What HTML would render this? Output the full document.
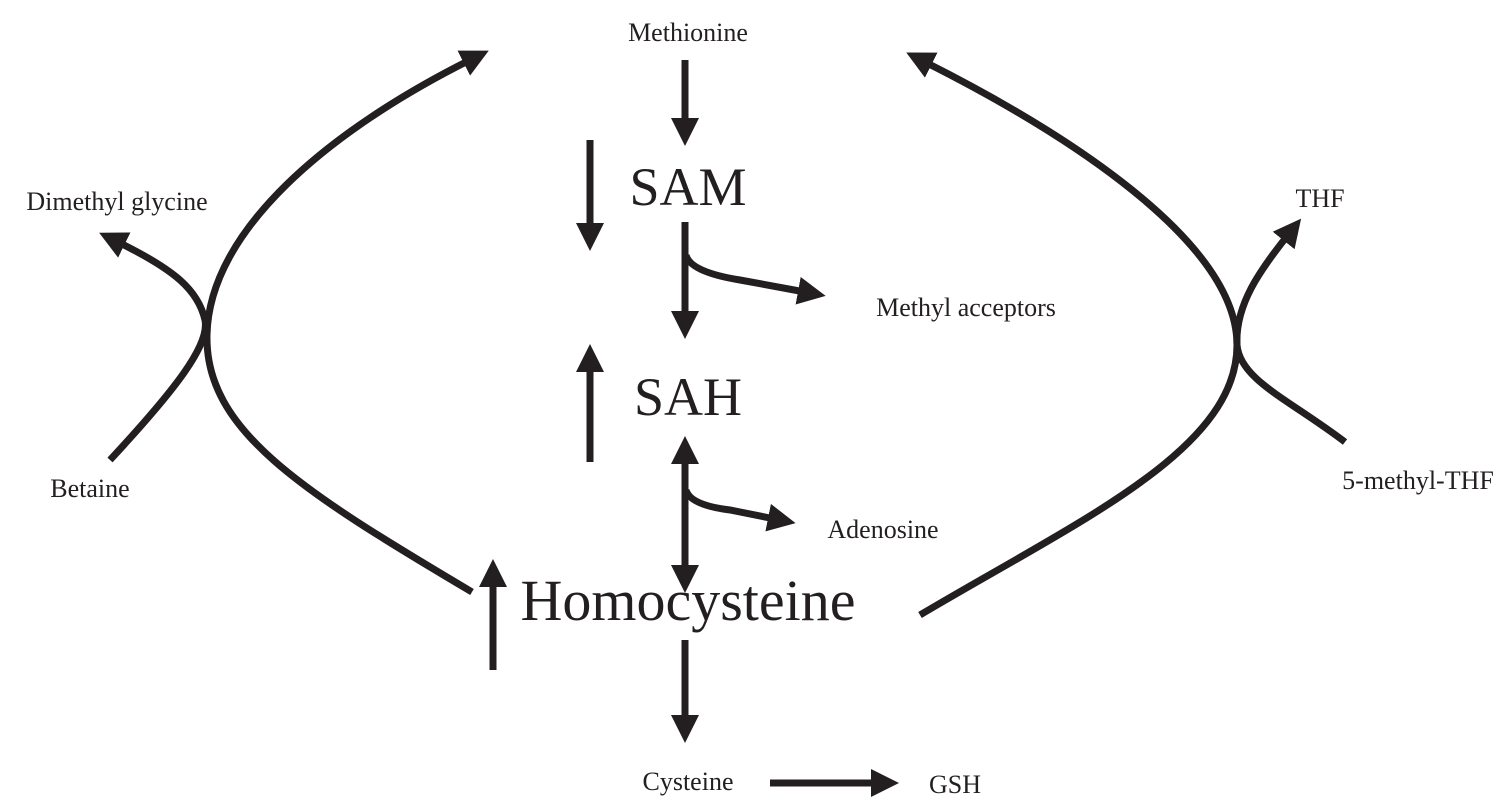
<!DOCTYPE html>
<html><head><meta charset="utf-8"><style>
html,body{margin:0;padding:0;background:#fff;width:1500px;height:799px;overflow:hidden}
svg{display:block}
text{font-family:"Liberation Serif",serif;fill:#231f20}
</style></head><body>
<svg width="1500" height="799" viewBox="0 0 1500 799">
<defs>
<marker id="a" markerWidth="4" markerHeight="4" refX="1" refY="2" orient="auto" markerUnits="strokeWidth" viewBox="0 0 4 4">
<path d="M0,0 L4,2 L0,4 Z" fill="#231f20"/></marker>
</defs>
<g stroke="#231f20" stroke-width="7" fill="none" stroke-linecap="butt">
<!-- center vertical arrows -->
<line x1="685" y1="60" x2="685" y2="125" marker-end="url(#a)"/>
<line x1="590" y1="140" x2="590" y2="230" marker-end="url(#a)"/>
<line x1="685" y1="222" x2="685" y2="318" marker-end="url(#a)"/>
<path d="M686,255 Q690,272 740,280 L805,292" marker-end="url(#a)"/>
<line x1="590" y1="462" x2="590" y2="365" marker-end="url(#a)"/>
<line x1="685" y1="460" x2="685" y2="572" marker-end="url(#a)"/>
<line x1="685" y1="540" x2="685" y2="457" marker-end="url(#a)"/>
<path d="M686,490 Q690,505 730,510 L775,519" marker-end="url(#a)"/>
<line x1="493" y1="670" x2="493" y2="580" marker-end="url(#a)"/>
<line x1="685" y1="640" x2="685" y2="722" marker-end="url(#a)"/>
<line x1="770" y1="783" x2="878" y2="783" marker-end="url(#a)"/>
<!-- left big curve -->
<path d="M472,592 C300,490 205,430 207,335 C209,230 330,130 470,60" marker-end="url(#a)"/>
<path d="M110,460 C175,390 210,345 205,320 C198,290 175,270 118,242" marker-end="url(#a)"/>
<!-- right big curve -->
<path d="M920,615 C1080,520 1237,450 1237,345 C1237,240 1060,130 925,62" marker-end="url(#a)"/>
<path d="M1345,442 C1290,400 1240,380 1237,345 C1235,305 1260,270 1288,235" marker-end="url(#a)"/>
</g>
<g text-anchor="middle">
<text x="688" y="41" font-size="26">Methionine</text>
<text x="688" y="205" font-size="54">SAM</text>
<text x="688" y="415" font-size="54">SAH</text>
<text x="688" y="620" font-size="58">Homocysteine</text>
<text x="688" y="790" font-size="26">Cysteine</text>
<text x="955" y="793" font-size="26">GSH</text>
<text x="966" y="316" font-size="26">Methyl acceptors</text>
<text x="883" y="538" font-size="26">Adenosine</text>
<text x="117" y="210" font-size="26">Dimethyl glycine</text>
<text x="90" y="497" font-size="26">Betaine</text>
<text x="1320" y="207" font-size="26">THF</text>
<text x="1418" y="489" font-size="26">5-methyl-THF</text>
</g>
</svg>
</body></html>
